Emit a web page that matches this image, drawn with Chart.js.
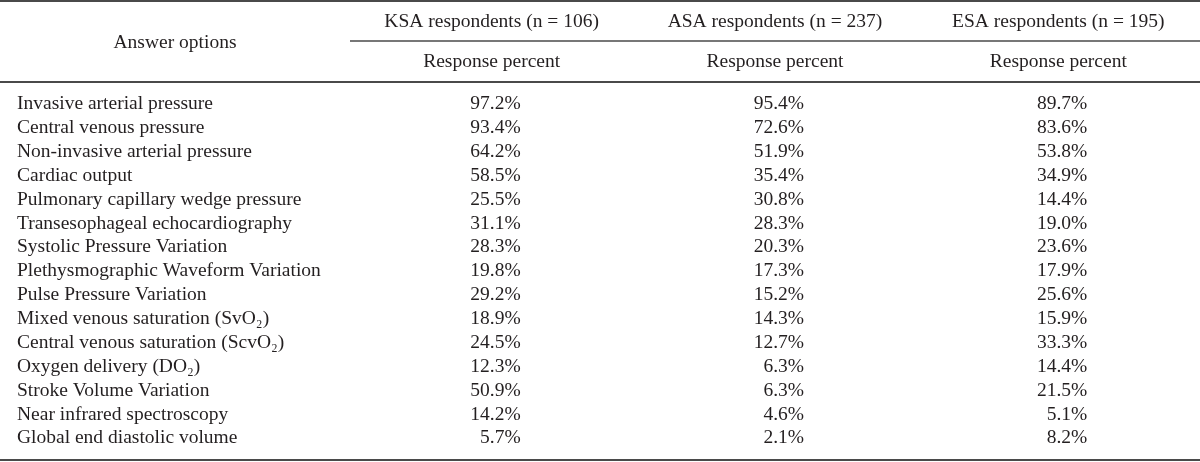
<!DOCTYPE html>
<html>
<head>
<meta charset="utf-8">
<script src="https://cdn.jsdelivr.net/npm/chart.js@4.4.0/dist/chart.umd.min.js"></script>
<style>
  html, body { margin: 0; padding: 0; background: #fff; }
  #wrap { width: 1200px; height: 462px; position: relative; }
</style>
</head>
<body>
<div id="wrap"><canvas id="tableChart"></canvas></div>
<script>
// row labels (answer options)
const answerOptions = [
  "Invasive arterial pressure",
  "Central venous pressure",
  "Non-invasive arterial pressure",
  "Cardiac output",
  "Pulmonary capillary wedge pressure",
  "Transesophageal echocardiography",
  "Systolic Pressure Variation",
  "Plethysmographic Waveform Variation",
  "Pulse Pressure Variation",
  "Mixed venous saturation (SvO\u2082)",
  "Central venous saturation (ScvO\u2082)",
  "Oxygen delivery (DO\u2082)",
  "Stroke Volume Variation",
  "Near infrared spectroscopy",
  "Global end diastolic volume"
];

// column groups
const groups = ["KSA respondents (n = 106)", "ASA respondents (n = 237)", "ESA respondents (n = 195)"];
const subHeader = "Response percent";
const cornerHeader = "Answer options";

// response percent per group
const ksaValues = [97.2, 93.4, 64.2, 58.5, 25.5, 31.1, 28.3, 19.8, 29.2, 18.9, 24.5, 12.3, 50.9, 14.2, 5.7];
const asaValues = [95.4, 72.6, 51.9, 35.4, 30.8, 28.3, 20.3, 17.3, 15.2, 14.3, 12.7, 6.3, 6.3, 4.6, 2.1];
const esaValues = [89.7, 83.6, 53.8, 34.9, 14.4, 19.0, 23.6, 17.9, 25.6, 15.9, 33.3, 14.4, 21.5, 5.1, 8.2];

const allValues = [ksaValues, asaValues, esaValues];

const FONT = "'Liberation Serif', 'DejaVu Serif', serif";
const FONT_SIZE = 19.5;
const TEXT_COLOR = "#231f20";
const RULE_COLOR = "#4a4a4a";

// draws the header rules / texts and the cell values
const tablePlugin = {
  id: 'tablePlugin',
  afterDatasetsDraw(chart) {
    const ctx = chart.ctx;
    const xs = chart.scales.x;
    const area = chart.chartArea;
    const W = chart.width;

    ctx.save();
    ctx.fillStyle = TEXT_COLOR;
    ctx.font = FONT_SIZE + "px " + FONT;
    ctx.textBaseline = "middle";

    // cell values, right aligned in each column
    chart.data.datasets.forEach((ds, d) => {
      const meta = chart.getDatasetMeta(d);
      ctx.textAlign = "right";
      meta.data.forEach((pt, i) => {
        ctx.fillText(allValues[d][i].toFixed(1) + "%", pt.x + 29, pt.y);
      });
    });

    // headers
    ctx.textAlign = "center";
    ctx.fillText(cornerHeader, 175, 43);
    groups.forEach((g, i) => {
      const cx = xs.getPixelForValue(i);
      ctx.fillText(g, cx, 22);
      ctx.fillText(subHeader, cx, 62);
    });

    // rules
    ctx.strokeStyle = RULE_COLOR;
    ctx.lineWidth = 2;
    ctx.beginPath();
    ctx.moveTo(0, 1); ctx.lineTo(W, 1);
    ctx.moveTo(0, 82); ctx.lineTo(W, 82);
    ctx.moveTo(0, 460); ctx.lineTo(W, 460);
    ctx.stroke();

    ctx.lineWidth = 1.5;
    ctx.beginPath();
    ctx.moveTo(area.left, 41); ctx.lineTo(W, 41);
    ctx.stroke();
    ctx.restore();
  }
};

const datasets = groups.map((g, d) => ({
  label: g,
  data: answerOptions.map(opt => ({ x: g, y: opt })),
  pointRadius: 0,
  showLine: false
}));

new Chart(document.getElementById('tableChart').getContext('2d'), {
  type: 'scatter',
  data: { datasets: datasets },
  options: {
    responsive: true,
    maintainAspectRatio: false,
    animation: false,
    layout: { padding: { left: 17, top: 92, bottom: 10, right: 0 } },
    plugins: {
      legend: { display: false },
      tooltip: { enabled: false }
    },
    scales: {
      x: {
        type: 'category',
        labels: groups,
        offset: true,
        display: false
      },
      y: {
        type: 'category',
        labels: answerOptions,
        offset: true,
        grid: { display: false },
        border: { display: false },
        afterFit(scale) { scale.width = 333; },
        ticks: {
          crossAlign: 'far',
          autoSkip: false,
          padding: 0,
          color: TEXT_COLOR,
          font: { family: FONT, size: FONT_SIZE }
        }
      }
    }
  },
  plugins: [tablePlugin]
});
</script>
</body>
</html>
